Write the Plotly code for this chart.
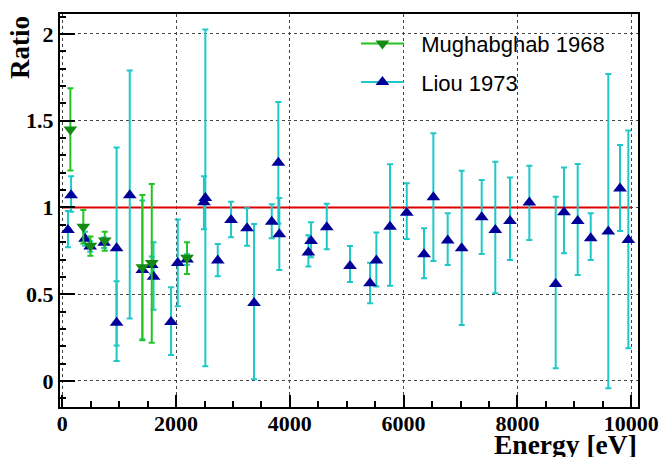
import plotly.graph_objects as go

# Liou 1973
liou_e = [100, 155, 400, 490, 735, 955, 955, 1186, 1408, 1573, 1605, 1912, 2030, 2193,
          2490, 2515, 2733, 2967, 3248, 3371, 3682, 3798, 3815, 4326, 4373, 4649, 5058,
          5410, 5521, 5761, 6055, 6359, 6523, 6775, 7021, 7373, 7612, 7870, 8210, 8673,
          8819, 9060, 9289, 9598, 9804, 9950]
liou_r = [0.87, 1.07, 0.82, 0.775, 0.797, 0.765, 0.335, 1.07, 0.64, 0.668, 0.60, 0.34, 0.68, 0.70,
          1.03, 1.055, 0.694, 0.928, 0.88, 0.45, 0.918, 1.258, 0.845, 0.74, 0.807, 0.886, 0.663,
          0.563, 0.694, 0.889, 0.97, 0.73, 1.059, 0.809, 0.765, 0.943, 0.87, 0.922, 1.028, 0.559,
          0.972, 0.922, 0.822, 0.861, 1.11, 0.813]
liou_up = [0.11, 0.11, 0.04, 0.03, 0.03, 0.58, 0.24, 0.72, 0.40, 0.05, 0.20, 0.20, 0.25, 0.03,
           0.15, 0.97, 0.096, 0.105, 0.115, 0.455, 0.10, 0.35, 0.21, 0.10, 0.108, 0.136, 0.115,
           0.119, 0.161, 0.36, 0.169, 0.15, 0.369, 0.157, 0.447, 0.215, 0.394, 0.25, 0.213, 0.503,
           0.258, 0.328, 0.144, 0.908, 0.25, 0.63]
liou_dn = [0.10, 0.095, 0.04, 0.03, 0.03, 0.65, 0.13, 0.71, 0.40, 0.05, 0.19, 0.19, 0.25, 0.03,
           0.155, 0.97, 0.09, 0.10, 0.10, 0.44, 0.096, 0.35, 0.205, 0.08, 0.094, 0.127, 0.092,
           0.115, 0.15, 0.34, 0.152, 0.138, 0.367, 0.14, 0.442, 0.211, 0.365, 0.225, 0.215, 0.486,
           0.236, 0.311, 0.125, 0.903, 0.245, 0.625]

# Mughabghab 1968
mug_e = [142, 370, 494, 747, 1408, 1573, 2193]
mug_r = [1.45, 0.889, 0.78, 0.81, 0.655, 0.68, 0.71]
mug_up = [0.237, 0.097, 0.053, 0.05, 0.417, 0.455, 0.09]
mug_dn = [0.237, 0.097, 0.058, 0.06, 0.42, 0.46, 0.093]

ref_x = [0, 10000]
ref_y = [1, 1]

x_ticks = [0, 2000, 4000, 6000, 8000, 10000]
y_ticks = [0, 0.5, 1, 1.5, 2]
y_ticktext = ["0", "0.5", "1", "1.5", "2"]

CYAN = "#1fc8c8"
GREEN_BAR = "#22c422"
GREEN_MK = "#138a13"
NAVY = "#000099"

fig = go.Figure()

fig.add_trace(go.Scatter(x=ref_x, y=ref_y, mode="lines",
                         line=dict(color="#dd0000", width=2), showlegend=False, hoverinfo="skip"))

fig.add_trace(go.Scatter(
    x=liou_e, y=liou_r, mode="markers", showlegend=False,
    marker=dict(symbol="triangle-up", size=12, color=NAVY),
    error_y=dict(type="data", symmetric=False, array=liou_up, arrayminus=liou_dn,
                 color=CYAN, thickness=2, width=3)))

fig.add_trace(go.Scatter(
    x=mug_e, y=mug_r, mode="markers", showlegend=False,
    marker=dict(symbol="triangle-down", size=12, color=GREEN_MK),
    error_y=dict(type="data", symmetric=False, array=mug_up, arrayminus=mug_dn,
                 color=GREEN_BAR, thickness=2, width=3)))

# legend entries
fig.add_trace(go.Scatter(x=[None], y=[None], mode="lines+markers",
                         name="\u00a0\u00a0Mughabghab 1968", legendgroup="a",
                         line=dict(color=GREEN_BAR, width=2),
                         marker=dict(symbol="triangle-down", size=12, color=GREEN_MK)))
fig.add_trace(go.Scatter(x=[None], y=[None], mode="lines+markers",
                         name="\u00a0\u00a0Liou 1973", legendgroup="b",
                         line=dict(color=CYAN, width=2),
                         marker=dict(symbol="triangle-up", size=12, color=NAVY)))

tickfont = dict(family="Liberation Serif", size=22, color="black", weight="bold")

fig.update_layout(
    width=659, height=457,
    margin=dict(l=60, r=21, t=14, b=50, autoexpand=False),
    paper_bgcolor="white", plot_bgcolor="white",
    showlegend=True,
    legend=dict(x=0.512, y=0.978, xanchor="left", yanchor="top",
                bgcolor="rgba(0,0,0,0)", borderwidth=0, itemwidth=43,
                font=dict(family="Liberation Sans", size=22, color="black"),
                tracegroupgap=7),
    xaxis=dict(range=[-40, 10120], tickvals=x_ticks, ticktext=[str(v) for v in x_ticks],
               automargin=False,
               ticks="inside", ticklen=12, tickwidth=1.5, tickcolor="black",
               ticklabelstandoff=-4, ticklabeloverflow="allow",
               minor=dict(dtick=500, ticks="inside", ticklen=6, tickwidth=1.5, tickcolor="black", showgrid=False),
               showgrid=True, gridcolor="#444", griddash="dot", gridwidth=1,
               showline=True, linecolor="black", linewidth=2, mirror=True,
               zeroline=False, tickfont=tickfont),
    yaxis=dict(range=[-0.15, 2.115], tickvals=y_ticks, ticktext=y_ticktext,
               automargin=False,
               ticks="inside", ticklen=15, tickwidth=1.5, tickcolor="black",
               minor=dict(dtick=0.1, ticks="inside", ticklen=6, tickwidth=1.5, tickcolor="black", showgrid=False),
               showgrid=True, gridcolor="#444", griddash="dot", gridwidth=1,
               showline=True, linecolor="black", linewidth=2, mirror=True,
               zeroline=False, tickfont=tickfont),
    annotations=[
        dict(text="Ratio", xref="paper", yref="paper", x=-0.07, y=1.0,
             xanchor="center", yanchor="top", textangle=-90, showarrow=False,
             font=dict(family="Liberation Serif", size=27, color="black", weight="bold")),
        dict(text="Energy [eV]", xref="paper", yref="paper", x=1.001, y=-0.05,
             xanchor="right", yanchor="top", showarrow=False,
             font=dict(family="Liberation Serif", size=27.5, color="black", weight="bold")),
    ],
)

fig.write_html("out.html")
